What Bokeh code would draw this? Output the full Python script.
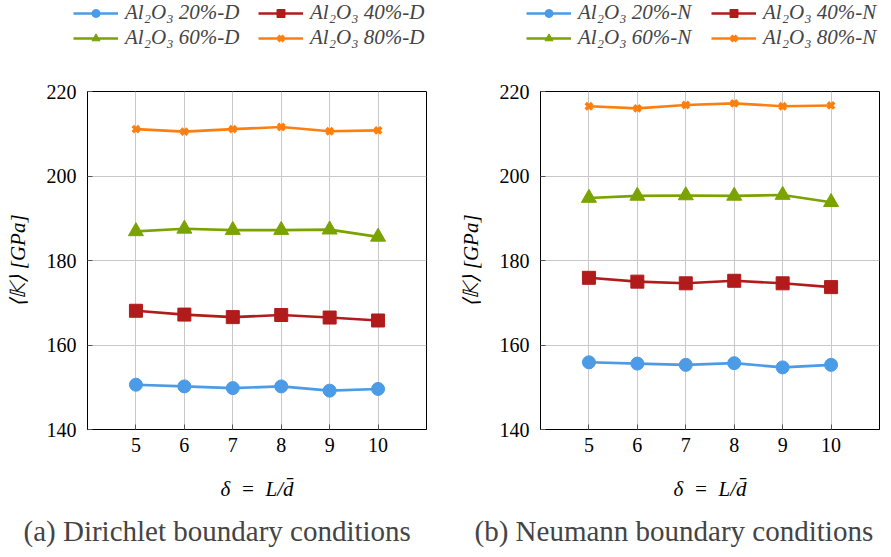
from bokeh.plotting import figure
from bokeh.models import FixedTicker, Range1d, Title
from bokeh.layouts import row, column
from bokeh.embed import file_html
from bokeh.resources import INLINE

delta = [5, 6, 7, 8, 9, 10]
D20 = [150.6, 150.2, 149.8, 150.2, 149.2, 149.6]
D40 = [168.1, 167.2, 166.6, 167.1, 166.5, 165.8]
D60 = [186.9, 187.5, 187.2, 187.2, 187.3, 185.6]
D80 = [211.1, 210.5, 211.1, 211.6, 210.6, 210.8]
N20 = [155.9, 155.6, 155.3, 155.7, 154.7, 155.3]
N40 = [175.9, 175.0, 174.6, 175.2, 174.6, 173.7]
N60 = [194.8, 195.3, 195.4, 195.3, 195.5, 193.8]
N80 = [216.5, 216.0, 216.8, 217.2, 216.5, 216.7]

labels_D = ["Al₂O₃ 20%-D", "Al₂O₃ 40%-D", "Al₂O₃ 60%-D", "Al₂O₃ 80%-D"]
labels_N = ["Al₂O₃ 20%-N", "Al₂O₃ 40%-N", "Al₂O₃ 60%-N", "Al₂O₃ 80%-N"]
x_ticks = [5, 6, 7, 8, 9, 10]
y_ticks = [140, 160, 180, 200, 220]
x_label = "δ\u2002=\u2002L/d̄"
y_label = "⟨𝕂⟩ [GPa]"
cap_D = "(a) Dirichlet boundary conditions"
cap_N = "(b) Neumann boundary conditions"

colors = ["#4b9be6", "#b21b1b", "#7aa300", "#ff7f0e"]
markers = ["circle", "square", "triangle", "x"]
msizes = [13, 13, 15, 9]
FONT = "Liberation Serif"
LEG_H = 50


def no_align(fig):
    if "frame_align" in fig.properties():
        fig.frame_align = False


def draw_series(p, series, labels):
    for ys, lab, c, m, s in zip(series, labels, colors, markers, msizes):
        p.line(delta, ys, line_color=c, line_width=2.6, legend_label=lab)
        if m == "x":
            p.scatter(delta, ys, marker=m, size=s, line_color=c, line_width=3.5,
                      legend_label=lab)
        else:
            p.scatter(delta, ys, marker=m, size=s, fill_color=c, line_color=c,
                      legend_label=lab)


def make_legend(series, labels, width, x0):
    lf = figure(width=width, height=LEG_H, output_backend="svg", toolbar_location=None,
                x_range=Range1d(0, 1), y_range=Range1d(0, 1),
                x_axis_location=None, y_axis_location=None,
                min_border_left=0, min_border_right=0, min_border_top=0, min_border_bottom=0)
    no_align(lf)
    lf.grid.visible = False
    lf.outline_line_color = None
    draw_series(lf, series, labels)
    lg = lf.legend[0]
    it = list(lg.items)
    lg.items = [it[0], it[2], it[1], it[3]]
    lg.location = (x0, 0)
    lg.ncols = 2
    lg.border_line_color = None
    lg.background_fill_alpha = 0
    lg.padding = 0
    lg.margin = 0
    lg.spacing = 0
    lg.glyph_width = 45
    lg.glyph_height = 20
    lg.label_height = 20
    lg.label_width = 133
    lg.label_standoff = 7
    lg.label_text_font = FONT
    lg.label_text_font_size = "21px"
    lg.label_text_font_style = "italic"
    return lf


def make(series, labels, caption, width, left, right, cap_offset):
    p = figure(width=width, height=41 + 338 + 128, output_backend="svg", toolbar_location=None,
               x_range=Range1d(4, 11), y_range=Range1d(140, 220),
               min_border_left=left, min_border_right=right,
               min_border_top=41, min_border_bottom=128)
    p.outline_line_color = "black"
    p.outline_line_width = 1
    draw_series(p, series, labels)
    p.legend.visible = False
    for ax in (p.xaxis[0], p.yaxis[0]):
        ax.major_tick_in = 5
        ax.major_tick_out = 0
        ax.minor_tick_line_color = None
        ax.major_tick_line_color = "#555555"
        ax.axis_line_color = "black"
        ax.major_label_text_font = FONT
        ax.major_label_text_font_size = "20px"
        ax.major_label_text_color = "black"
        ax.axis_label_text_font = FONT
        ax.axis_label_text_font_size = "21px"
        ax.axis_label_text_font_style = "italic"
        ax.axis_label_text_color = "black"
    p.xaxis[0].ticker = FixedTicker(ticks=x_ticks)
    p.yaxis[0].ticker = FixedTicker(ticks=y_ticks)
    p.xaxis[0].axis_label = x_label
    p.yaxis[0].axis_label = y_label
    p.xaxis[0].axis_label_standoff = 22
    p.yaxis[0].axis_label_standoff = 14
    p.xaxis[0].major_label_standoff = 8
    p.yaxis[0].major_label_standoff = 11
    p.xgrid.ticker = FixedTicker(ticks=x_ticks)
    p.ygrid.ticker = FixedTicker(ticks=y_ticks)
    p.grid.grid_line_color = "#c8c8c8"
    p.grid.grid_line_width = 1
    p.grid.grid_line_alpha = 1

    p.add_layout(Title(text=caption, align="left", offset=cap_offset,
                       text_font=FONT, text_font_size="29px", text_font_style="normal",
                       standoff=19), "below")
    return p


lD = make_legend([D20, D40, D60, D80], labels_D, 449, 73)
lN = make_legend([N20, N40, N60, N80], labels_N, 438, 77)
pD = make([D20, D40, D60, D80], labels_D, cap_D, 449, 87, 23, -64)
pN = make([N20, N40, N60, N80], labels_N, cap_N, 438, 91, 8, -66)

layout = row(column(lD, pD), column(lN, pN))
open("out.html", "w").write(file_html(layout, INLINE))
